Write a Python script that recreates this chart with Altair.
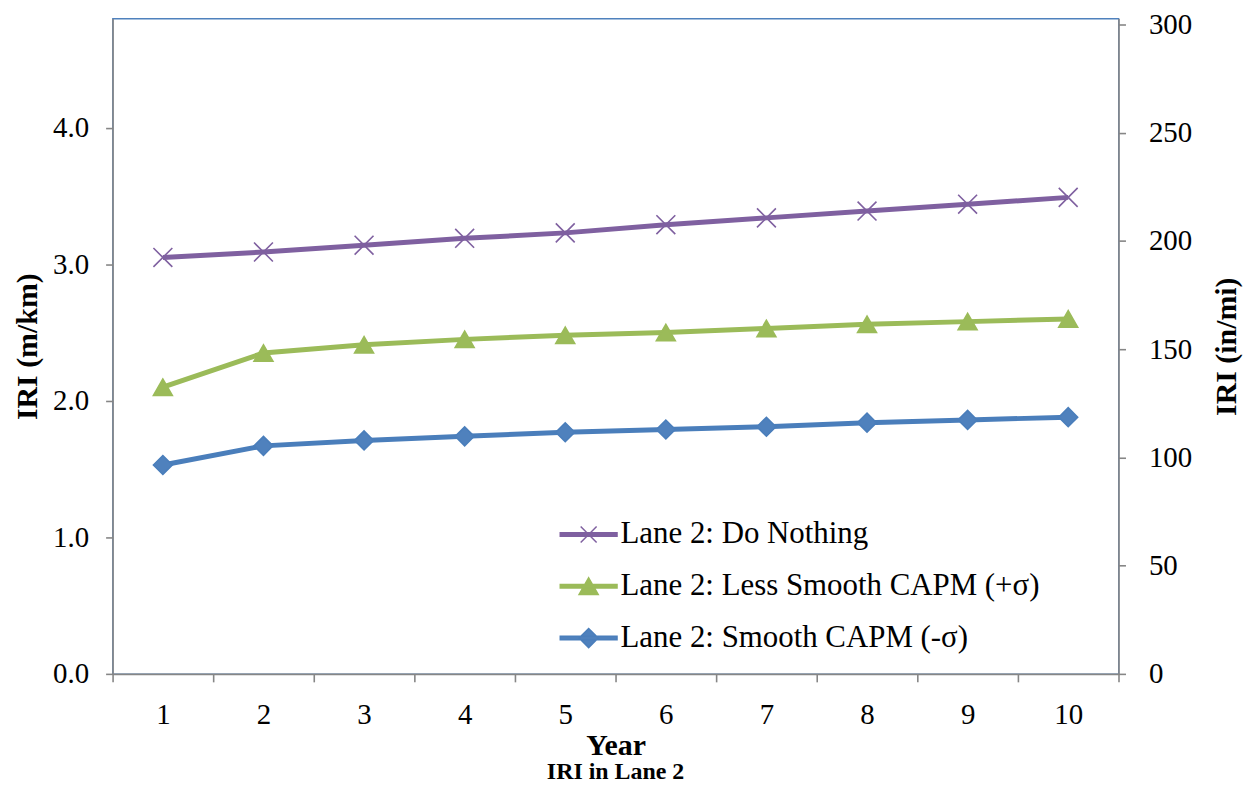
import altair as alt
import pandas as pd

# ---- data ----
years = [1, 2, 3, 4, 5, 6, 7, 8, 9, 10]
series_names = [
    "Lane 2: Do Nothing",
    "Lane 2: Less Smooth CAPM (+σ)",
    "Lane 2: Smooth CAPM (-σ)",
]
do_nothing = [3.05, 3.09, 3.14, 3.19, 3.23, 3.29, 3.34, 3.39, 3.44, 3.49]
less_smooth = [2.10, 2.35, 2.41, 2.45, 2.48, 2.50, 2.53, 2.56, 2.58, 2.60]
smooth = [1.53, 1.67, 1.71, 1.74, 1.77, 1.79, 1.81, 1.84, 1.86, 1.88]
left_ticks = [0, 1, 2, 3, 4]
right_ticks = [0, 50, 100, 150, 200, 250, 300]
M_KM_TO_IN_MI = 63.36

colors = ["#7F60A0", "#9BBB59", "#4A7EBB"]
fills = ["transparent", "#9BBB59", "#4F81BD"]
marker_shapes = ["M-1,-1L1,1M-1,1L1,-1", "triangle-up", "diamond"]
# legend symbols: short line segment with marker (unit = sqrt(size)/2 px)
rect = "M-1.425,-0.0875L1.425,-0.0875L1.425,0.0875L-1.425,0.0875Z"
legend_shapes = [
    rect + "M-0.4,-0.4L0.4,0.4M-0.4,0.4L0.4,-0.4",
    rect + "M0,-0.42L0.48,0.42L-0.48,0.42Z",
    rect + "M0,-0.48L0.48,0L0,0.48L-0.48,0Z",
]
legend_fills = ["#7F60A0", "#9BBB59", "#4F81BD"]

rows = []
for name, vals in zip(series_names, [do_nothing, less_smooth, smooth]):
    for yr, v in zip(years, vals):
        rows.append({"Year": yr, "IRI": v, "Series": name})
df = pd.DataFrame(rows)

FONT = "Liberation Serif"

x_enc = alt.X(
    "Year:O",
    scale=alt.Scale(type="band", paddingInner=0, paddingOuter=0),
    axis=alt.Axis(
        title="Year",
        labelAngle=0,
        tickBand="extent",
        tickSize=8,
        labelPadding=19,
        titleX=505,
        titleY=72,
        titleBaseline="middle",
        titleFontSize=30,
        titleFontWeight="bold",
    ),
)

y_left = alt.Y(
    "IRI:Q",
    scale=alt.Scale(domain=[0, 4.8], nice=False, zero=True),
    axis=alt.Axis(
        title="IRI (m/km)",
        values=left_ticks,
        format=".1f",
        tickSize=7,
        labelPadding=17,
        titleAngle=270,
        titleX=-85,
        titleY=329,
        titleAlign="center",
        titleBaseline="middle",
        titleFontSize=30,
        titleFontWeight="bold",
        grid=False,
    ),
)

sdom = alt.Scale(domain=series_names, range=colors)

lines = alt.Chart(df).mark_line(strokeWidth=5).encode(
    x=x_enc,
    y=y_left,
    color=alt.Color("Series:N", scale=sdom, legend=None),
)

points = alt.Chart(df).mark_point(opacity=1, strokeWidth=1.6, size=360).encode(
    x=x_enc,
    y=alt.Y("IRI:Q"),
    shape=alt.Shape("Series:N", scale=alt.Scale(domain=series_names, range=marker_shapes), legend=None),
    fill=alt.Fill("Series:N", scale=alt.Scale(domain=series_names, range=fills), legend=None),
    stroke=alt.Stroke("Series:N", scale=alt.Scale(domain=series_names, range=colors), legend=None),
)

leg = alt.Legend(
    title=None,
    orient="none",
    legendX=457,
    legendY=497,
    padding=0,
    symbolSize=1600,
    symbolStrokeWidth=1.5,
    labelFont=FONT,
    labelFontSize=31,
    labelColor="#000000",
    labelOffset=11,
    rowPadding=16,
    labelLimit=600,
)

legend_layer = (
    alt.Chart(df)
    .transform_filter("false")
    .mark_point(opacity=1, filled=True)
    .encode(
        shape=alt.Shape("Series:N", scale=alt.Scale(domain=series_names, range=legend_shapes), legend=leg),
        fill=alt.Fill("Series:N", scale=alt.Scale(domain=series_names, range=legend_fills), legend=leg),
        stroke=alt.Stroke("Series:N", scale=alt.Scale(domain=series_names, range=colors), legend=leg),
    )
)

main = alt.layer(lines, points, legend_layer).resolve_scale(
    shape="independent", fill="independent", stroke="independent"
)

right_axis = (
    alt.Chart(df)
    .transform_calculate(in_mi=f"datum.IRI * {M_KM_TO_IN_MI}")
    .mark_point(opacity=0)
    .encode(
        x=x_enc,
        y=alt.Y(
            "in_mi:Q",
            scale=alt.Scale(domain=[0, 302.76], nice=False, zero=True),
            axis=alt.Axis(
                orient="right",
                title="IRI (in/mi)",
                values=right_ticks,
                format="d",
                tickSize=7,
                labelPadding=23,
                titleAngle=270,
                titleX=108,
                titleY=329,
                titleAlign="center",
                titleBaseline="middle",
                titleFontSize=30,
                titleFontWeight="bold",
                grid=False,
            ),
        ),
    )
)

chart = (
    alt.layer(main, right_axis)
    .resolve_scale(y="independent")
    .properties(
        width=1010,
        height=658,
        autosize=alt.AutoSizeParams(type="none"),
        padding={"left": 105, "top": 9, "right": 125, "bottom": 110},
        title=alt.TitleParams(
            text="IRI in Lane 2",
            orient="bottom",
            anchor="middle",
            frame="group",
            offset=0,
            font=FONT,
            fontSize=24,
            fontWeight="bold",
            color="#000000",
            baseline="top",
        ),
    )
    .configure_view(stroke="#4F81BD", strokeWidth=1.3)
    .configure_axis(
        labelFont=FONT,
        titleFont=FONT,
        labelFontSize=29,
        labelColor="#000000",
        titleColor="#000000",
        domainColor="#868686",
        domainWidth=1.6,
        tickColor="#868686",
        tickWidth=1.6,
        grid=False,
    )
)

chart.save("out.html", embed_options={"renderer": "svg", "actions": False})
